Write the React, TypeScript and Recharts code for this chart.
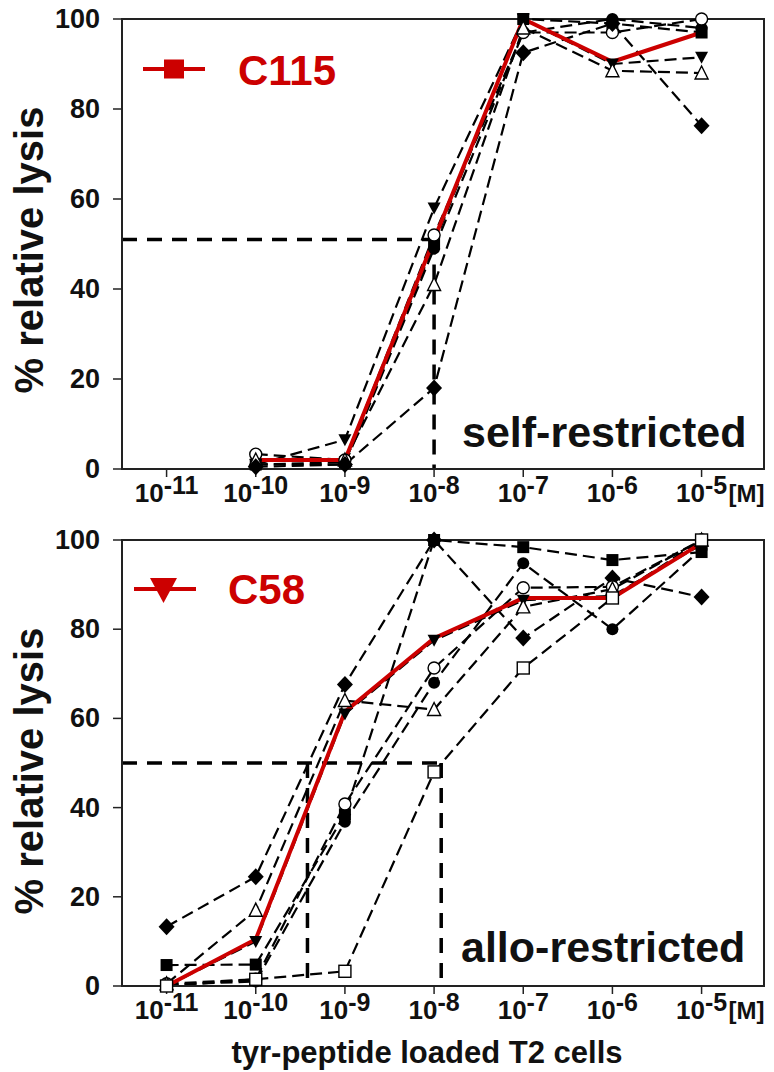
import React from "react";
import { LineChart, Line, XAxis, YAxis, ReferenceLine, ReferenceArea } from "recharts";

const FONT = '"Liberation Sans", Arial, Helvetica, sans-serif';
const RED = "#cc0000";
const INK = "#111";

// log10 of peptide concentration [M]
const decadeTicks = [-11, -10, -9, -8, -7, -6, -5];
const percentTicks = [0, 20, 40, 60, 80, 100];

/* ---------- self-restricted (top) ---------- */
const topDoses = [-10, -9, -8, -7, -6, -5];
const topC115 = [2, 2, 51, 100, 90.5, 97];
const topSquare = [1, 1.5, 50, 100, 99, 97];
const topCircle = [1, 1, 49, 97, 100, 98];
const topOpenCircle = [3.3, 2, 52, 97, 97, 100];
const topTriDown = [1, 6.5, 58, 100, 90, 91.5];
const topOpenTri = [2, 2, 41, 98, 88.5, 88];
const topDiamond = [0.5, 1, 18, 92.5, 99, 76.3];
const topEc50 = { x: -8, y: 51 };

/* ---------- allo-restricted (bottom) ---------- */
const bottomDoses = [-11, -10, -9, -8, -7, -6, -5];
const bottomC58 = [0, 10.5, 61.5, 78, 87, 87, 99.3];
const bottomTriDown = [0, 10, 61, 77.5, 86.5, 87.5, 99];
const bottomDiamond = [13.3, 24.5, 67.6, 100, 78, 91.5, 87.2];
const bottomSquare = [4.7, 4.8, 38.5, 100, 98.4, 95.5, 97.3];
const bottomCircle = [0.3, 1, 36.8, 68, 94.8, 80, 98];
const bottomOpenCircle = [0.5, 1.5, 40.8, 71.3, 89.3, 89.5, 100];
const bottomOpenTri = [0.5, 17, 64, 62, 85, 89, 100];
const bottomOpenSquare = [0, 1.5, 3.3, 48, 71.3, 87, 100];
const bottomEc50Y = 50;
const bottomEc50X = [-9.42, -7.92];

const X_DOMAIN = [-11.5, -4.3];

type Kind = "square" | "openSquare" | "circle" | "openCircle" | "triDown" | "openTri" | "diamond";

function Marker({ cx, cy, kind }: { cx?: number; cy?: number; kind: Kind }) {
  if (cx == null || cy == null || isNaN(cx) || isNaN(cy)) return null;
  const h = 6;
  switch (kind) {
    case "square":
      return <rect x={cx - h} y={cy - h} width={h * 2} height={h * 2} fill="#000" />;
    case "openSquare":
      return <rect x={cx - h} y={cy - h} width={h * 2} height={h * 2} fill="#fff" stroke="#000" strokeWidth={1.4} />;
    case "circle":
      return <circle cx={cx} cy={cy} r={h} fill="#000" />;
    case "openCircle":
      return <circle cx={cx} cy={cy} r={h} fill="#fff" stroke="#000" strokeWidth={1.4} />;
    case "triDown":
      return <polygon points={`${cx - 6.5},${cy - 5.5} ${cx + 6.5},${cy - 5.5} ${cx},${cy + 6.5}`} fill="#000" />;
    case "openTri":
      return (
        <polygon
          points={`${cx},${cy - 7} ${cx + 6.5},${cy + 6} ${cx - 6.5},${cy + 6}`}
          fill="#fff"
          stroke="#000"
          strokeWidth={1.4}
        />
      );
    case "diamond":
      return <polygon points={`${cx},${cy - 8.5} ${cx + 8},${cy} ${cx},${cy + 8.5} ${cx - 8},${cy}`} fill="#000" />;
  }
  return null;
}

function DecadeTick(props: any) {
  const { x, y, payload } = props;
  const exp = payload.value;
  return (
    <g transform={`translate(${x},${y})`}>
      <text x={0} y={25} textAnchor="middle" fontFamily={FONT} fontWeight="bold" fontSize={26} fill={INK}>
        10
        <tspan dy={-8} fontSize={25}>
          {exp}
        </tspan>
      </text>
      {exp === -5 && (
        <text x={27} y={25} fontFamily={FONT} fontWeight="bold" fontSize={24} fill={INK}>
          [M]
        </text>
      )}
    </g>
  );
}

function PercentTick(props: any) {
  const { x, y, payload } = props;
  return (
    <text x={x} y={y + 9} textAnchor="end" fontFamily={FONT} fontWeight="bold" fontSize={27} fill={INK}>
      {payload.value}
    </text>
  );
}

type Series = { key: string; values: number[]; kind: Kind };

type Seg = { x: number; y: number }[];

function Panel({
  top,
  doses,
  series,
  highlight,
  segments,
  bottomMargin,
}: {
  top: number;
  doses: number[];
  series: Series[];
  highlight: number[];
  segments: Seg[];
  bottomMargin: number;
}) {
  const data = doses.map((x, i) => {
    const row: any = { x, hl: highlight[i] };
    series.forEach((s) => (row[s.key] = s.values[i]));
    return row;
  });
  return (
    <div style={{ position: "absolute", left: 0, top, width: 774, height: 520 }}>
      <LineChart width={774} height={520} data={data} margin={{ top: 19, right: 10, bottom: bottomMargin, left: 22 }}>
        <ReferenceArea
          x1={X_DOMAIN[0]}
          x2={X_DOMAIN[1]}
          y1={0}
          y2={100}
          fill="none"
          fillOpacity={0}
          stroke="#222"
          strokeWidth={2}
          ifOverflow="visible"
        />
        <XAxis
          dataKey="x"
          type="number"
          domain={X_DOMAIN}
          ticks={decadeTicks}
          interval={0}
          allowDataOverflow
          height={45}
          tickSize={8}
          tickMargin={0}
          axisLine={{ stroke: "#222", strokeWidth: 2 }}
          tickLine={{ stroke: "#222", strokeWidth: 1.5 }}
          tick={<DecadeTick />}
        />
        <YAxis
          type="number"
          domain={[0, 100]}
          ticks={percentTicks}
          interval={0}
          width={100}
          tickSize={9}
          tickMargin={13}
          axisLine={{ stroke: "#222", strokeWidth: 2 }}
          tickLine={{ stroke: "#222", strokeWidth: 1.5 }}
          tick={<PercentTick />}
        />
        {segments.map((seg, i) => (
          <ReferenceLine
            key={i}
            segment={seg}
            stroke="#000"
            strokeWidth={3.5}
            strokeDasharray="15 10"
            ifOverflow="visible"
          />
        ))}
        {series.map((s) => (
          <Line
            key={s.key}
            type="linear"
            dataKey={s.key}
            stroke="#000"
            strokeWidth={2.2}
            strokeDasharray="12 6"
            isAnimationActive={false}
            connectNulls
            dot={(p: any) => <Marker key={`${s.key}-${p.index}`} cx={p.cx} cy={p.cy} kind={s.kind} />}
            activeDot={false}
          />
        ))}
        <Line
          type="linear"
          dataKey="hl"
          stroke={RED}
          strokeWidth={4}
          dot={false}
          activeDot={false}
          isAnimationActive={false}
        />
      </LineChart>
    </div>
  );
}

const topSeries: Series[] = [
  { key: "sq", values: topSquare, kind: "square" },
  { key: "ci", values: topCircle, kind: "circle" },
  { key: "oc", values: topOpenCircle, kind: "openCircle" },
  { key: "td", values: topTriDown, kind: "triDown" },
  { key: "ot", values: topOpenTri, kind: "openTri" },
  { key: "di", values: topDiamond, kind: "diamond" },
];

const bottomSeries: Series[] = [
  { key: "td", values: bottomTriDown, kind: "triDown" },
  { key: "di", values: bottomDiamond, kind: "diamond" },
  { key: "sq", values: bottomSquare, kind: "square" },
  { key: "ci", values: bottomCircle, kind: "circle" },
  { key: "oc", values: bottomOpenCircle, kind: "openCircle" },
  { key: "ot", values: bottomOpenTri, kind: "openTri" },
  { key: "os", values: bottomOpenSquare, kind: "openSquare" },
];

const topSegments: Seg[] = [
  [{ x: X_DOMAIN[0], y: topEc50.y }, { x: topEc50.x, y: topEc50.y }],
  [{ x: topEc50.x, y: topEc50.y }, { x: topEc50.x, y: 0 }],
];

const bottomSegments: Seg[] = [
  [{ x: X_DOMAIN[0], y: bottomEc50Y }, { x: bottomEc50X[1], y: bottomEc50Y }],
  ...bottomEc50X.map((x) => [{ x, y: bottomEc50Y }, { x, y: 0 }]),
];

export default function App() {
  const bold = { fontFamily: FONT, fontWeight: "bold" as const };
  return (
    <div style={{ position: "absolute", left: 0, top: 0, width: 774, height: 1072, background: "#fff" }}>
      <Panel top={0} doses={topDoses} series={topSeries} highlight={topC115} segments={topSegments} bottomMargin={6} />
      <Panel
        top={521}
        doses={bottomDoses}
        series={bottomSeries}
        highlight={bottomC58}
        segments={bottomSegments}
        bottomMargin={10}
      />
      <svg
        width={774}
        height={1072}
        style={{ position: "absolute", left: 0, top: 0, pointerEvents: "none" }}
      >
        <text transform="translate(43,250) rotate(-90)" textAnchor="middle" fontSize={40} fill={INK} {...bold}>
          % relative lysis
        </text>
        <text transform="translate(43,771) rotate(-90)" textAnchor="middle" fontSize={40} fill={INK} {...bold}>
          % relative lysis
        </text>

        <line x1={143} x2={205} y1={69} y2={69} stroke={RED} strokeWidth={4} />
        <rect x={164} y={59.5} width={20} height={19} fill={RED} />
        <text x={238} y={85} fontSize={42} fill={RED} {...bold}>
          C115
        </text>

        <line x1={134} x2={196} y1={589} y2={589} stroke={RED} strokeWidth={4} />
        <polygon points="150,578 177,578 163.5,603" fill={RED} />
        <text x={228} y={604} fontSize={42} fill={RED} {...bold}>
          C58
        </text>

        <text x={462} y={447} fontSize={43} fill={INK} {...bold}>
          self-restricted
        </text>
        <text x={461} y={962} fontSize={43} fill={INK} {...bold}>
          allo-restricted
        </text>

        <text x={427} y={1063} textAnchor="middle" fontSize={31} fill={INK} {...bold}>
          tyr-peptide loaded T2 cells
        </text>
      </svg>
    </div>
  );
}
